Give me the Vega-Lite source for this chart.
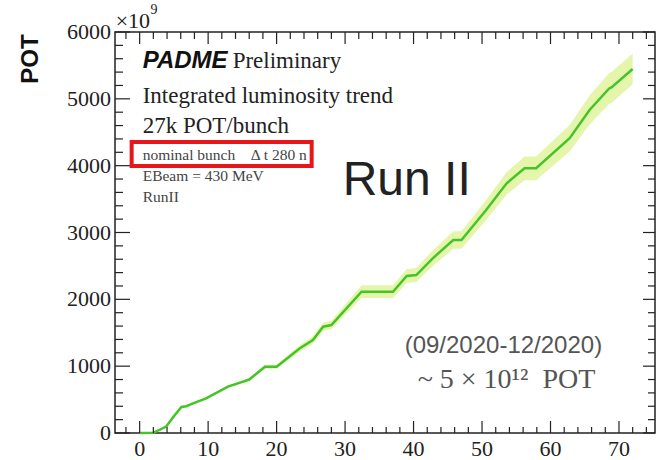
{
  "$schema": "https://vega.github.io/schema/vega-lite/v6.json",
  "width": 540,
  "height": 401,
  "autosize": {"type": "none"},
  "padding": {"left": 115, "top": 32, "right": 1, "bottom": 27},
  "background": "white",
  "config": {"view": {"stroke": "#222", "strokeWidth": 1.5}, "font": "Liberation Serif"},
  "datasets": {
    "pot": [
      {"day": 0, "pot": 0, "lo": 0, "hi": 0},
      {"day": 2.0, "pot": 5, "lo": 5, "hi": 5},
      {"day": 2.9, "pot": 45, "lo": 44, "hi": 46},
      {"day": 3.9, "pot": 100, "lo": 97, "hi": 103},
      {"day": 5.0, "pot": 250, "lo": 242, "hi": 258},
      {"day": 6.1, "pot": 390, "lo": 378, "hi": 402},
      {"day": 6.8, "pot": 400, "lo": 388, "hi": 412},
      {"day": 7.8, "pot": 444, "lo": 431, "hi": 457},
      {"day": 9.7, "pot": 519, "lo": 503, "hi": 535},
      {"day": 12.9, "pot": 693, "lo": 672, "hi": 714},
      {"day": 15.1, "pot": 768, "lo": 745, "hi": 791},
      {"day": 16.0, "pot": 800, "lo": 776, "hi": 824},
      {"day": 18.3, "pot": 992, "lo": 962, "hi": 1022},
      {"day": 20.0, "pot": 992, "lo": 962, "hi": 1022},
      {"day": 23.4, "pot": 1267, "lo": 1216, "hi": 1318},
      {"day": 25.3, "pot": 1392, "lo": 1336, "hi": 1448},
      {"day": 26.8, "pot": 1591, "lo": 1527, "hi": 1655},
      {"day": 28.0, "pot": 1616, "lo": 1551, "hi": 1681},
      {"day": 32.4, "pot": 2114, "lo": 2019, "hi": 2209},
      {"day": 37.0, "pot": 2114, "lo": 2019, "hi": 2209},
      {"day": 39.0, "pot": 2349, "lo": 2243, "hi": 2455},
      {"day": 40.4, "pot": 2364, "lo": 2258, "hi": 2470},
      {"day": 42.8, "pot": 2614, "lo": 2496, "hi": 2732},
      {"day": 45.8, "pot": 2888, "lo": 2758, "hi": 3018},
      {"day": 47.0, "pot": 2888, "lo": 2758, "hi": 3018},
      {"day": 50.6, "pot": 3337, "lo": 3187, "hi": 3487},
      {"day": 53.6, "pot": 3736, "lo": 3568, "hi": 3904},
      {"day": 56.2, "pot": 3961, "lo": 3783, "hi": 4139},
      {"day": 57.9, "pot": 3961, "lo": 3783, "hi": 4139},
      {"day": 62.8, "pot": 4410, "lo": 4212, "hi": 4608},
      {"day": 65.7, "pot": 4833, "lo": 4616, "hi": 5050},
      {"day": 68.6, "pot": 5158, "lo": 4926, "hi": 5390},
      {"day": 68.9, "pot": 5170, "lo": 4937, "hi": 5403},
      {"day": 72.0, "pot": 5447, "lo": 5217, "hi": 5677}
    ],
    "xmaj": [{"v": 0}, {"v": 10}, {"v": 20}, {"v": 30}, {"v": 40}, {"v": 50}, {"v": 60}, {"v": 70}],
    "xmin": [{"v": -2}, {"v": 2}, {"v": 4}, {"v": 6}, {"v": 8}, {"v": 12}, {"v": 14}, {"v": 16}, {"v": 18}, {"v": 22}, {"v": 24}, {"v": 26}, {"v": 28}, {"v": 32}, {"v": 34}, {"v": 36}, {"v": 38}, {"v": 42}, {"v": 44}, {"v": 46}, {"v": 48}, {"v": 52}, {"v": 54}, {"v": 56}, {"v": 58}, {"v": 62}, {"v": 64}, {"v": 66}, {"v": 68}, {"v": 72}, {"v": 74}],
    "ymaj": [{"v": 0}, {"v": 1000}, {"v": 2000}, {"v": 3000}, {"v": 4000}, {"v": 5000}, {"v": 6000}],
    "ymin": [{"v": 200}, {"v": 400}, {"v": 600}, {"v": 800}, {"v": 1200}, {"v": 1400}, {"v": 1600}, {"v": 1800}, {"v": 2200}, {"v": 2400}, {"v": 2600}, {"v": 2800}, {"v": 3200}, {"v": 3400}, {"v": 3600}, {"v": 3800}, {"v": 4200}, {"v": 4400}, {"v": 4600}, {"v": 4800}, {"v": 5200}, {"v": 5400}, {"v": 5600}, {"v": 5800}]
  },
  "layer": [
    {
      "data": {"name": "pot"},
      "mark": {"type": "area", "color": "#e4f5a8", "opacity": 0.95},
      "encoding": {
        "x": {"field": "day", "type": "quantitative", "scale": {"domain": [-3.6, 75.26], "nice": false, "zero": false}, "axis": null},
        "y": {"field": "lo", "type": "quantitative", "scale": {"domain": [0, 6000], "nice": false, "zero": false}, "axis": null},
        "y2": {"field": "hi"}
      }
    },
    {
      "data": {"name": "pot"},
      "mark": {"type": "line", "color": "#45c42a", "strokeWidth": 2.5},
      "encoding": {
        "x": {"field": "day", "type": "quantitative", "axis": null},
        "y": {"field": "pot", "type": "quantitative", "axis": null}
      }
    },
    {
      "data": {"name": "xmaj"},
      "mark": {"type": "tick", "orient": "vertical", "size": 12, "thickness": 1.2, "color": "#222", "opacity": 1, "yOffset": -6},
      "encoding": {"x": {"field": "v", "type": "quantitative", "axis": null}, "y": {"datum": 0, "type": "quantitative", "axis": null}}
    },
    {
      "data": {"name": "xmin"},
      "mark": {"type": "tick", "orient": "vertical", "size": 6, "thickness": 1.2, "color": "#222", "opacity": 1, "yOffset": -3},
      "encoding": {"x": {"field": "v", "type": "quantitative", "axis": null}, "y": {"datum": 0, "type": "quantitative", "axis": null}}
    },
    {
      "data": {"name": "xmaj"},
      "mark": {"type": "tick", "orient": "vertical", "size": 12, "thickness": 1.2, "color": "#222", "opacity": 1, "yOffset": 6},
      "encoding": {"x": {"field": "v", "type": "quantitative", "axis": null}, "y": {"datum": 6000, "type": "quantitative", "axis": null}}
    },
    {
      "data": {"name": "xmin"},
      "mark": {"type": "tick", "orient": "vertical", "size": 7, "thickness": 1.2, "color": "#222", "opacity": 1, "yOffset": 3.5},
      "encoding": {"x": {"field": "v", "type": "quantitative", "axis": null}, "y": {"datum": 6000, "type": "quantitative", "axis": null}}
    },
    {
      "data": {"name": "ymaj"},
      "mark": {"type": "tick", "orient": "horizontal", "size": 15, "thickness": 1.2, "color": "#222", "opacity": 1, "xOffset": 7.5},
      "encoding": {"y": {"field": "v", "type": "quantitative", "axis": null}, "x": {"datum": -3.6, "type": "quantitative", "axis": null}}
    },
    {
      "data": {"name": "ymin"},
      "mark": {"type": "tick", "orient": "horizontal", "size": 8, "thickness": 1.2, "color": "#222", "opacity": 1, "xOffset": 4},
      "encoding": {"y": {"field": "v", "type": "quantitative", "axis": null}, "x": {"datum": -3.6, "type": "quantitative", "axis": null}}
    },
    {
      "data": {"name": "ymaj"},
      "mark": {"type": "tick", "orient": "horizontal", "size": 12, "thickness": 1.2, "color": "#222", "opacity": 1, "xOffset": -6},
      "encoding": {"y": {"field": "v", "type": "quantitative", "axis": null}, "x": {"datum": 75.26, "type": "quantitative", "axis": null}}
    },
    {
      "data": {"name": "ymin"},
      "mark": {"type": "tick", "orient": "horizontal", "size": 7, "thickness": 1.2, "color": "#222", "opacity": 1, "xOffset": -3.5},
      "encoding": {"y": {"field": "v", "type": "quantitative", "axis": null}, "x": {"datum": 75.26, "type": "quantitative", "axis": null}}
    },
    {
      "data": {"name": "xmaj"},
      "mark": {"type": "text", "align": "center", "baseline": "top", "dy": 6, "font": "Liberation Serif", "fontSize": 22, "color": "#222"},
      "encoding": {
        "x": {"field": "v", "type": "quantitative", "axis": null},
        "y": {"datum": 0, "type": "quantitative", "axis": null},
        "text": {"field": "v", "type": "quantitative", "format": "d"}
      }
    },
    {
      "data": {"name": "ymaj"},
      "mark": {"type": "text", "align": "right", "baseline": "middle", "dx": -4, "font": "Liberation Serif", "fontSize": 22, "color": "#222"},
      "encoding": {
        "y": {"field": "v", "type": "quantitative", "axis": null},
        "x": {"datum": -3.6, "type": "quantitative", "axis": null},
        "text": {"field": "v", "type": "quantitative", "format": "d"}
      }
    },
    {
      "data": {"values": [{"x": -15.92, "y": 5596, "t": "POT"}]},
      "mark": {"type": "text", "align": "center", "baseline": "middle", "angle": 270, "font": "Liberation Sans", "fontWeight": "bold", "fontSize": 24, "color": "#111"},
      "encoding": {
        "x": {"field": "x", "type": "quantitative", "axis": null},
        "y": {"field": "y", "type": "quantitative", "axis": null},
        "text": {"field": "t"}
      }
    },
    {
      "data": {"values": [{"x1": -1.17, "x2": 25.12, "y1": 4354, "y2": 3995}]},
      "mark": {"type": "rect", "fillOpacity": 0, "stroke": "#e8151b", "strokeWidth": 4},
      "encoding": {
        "x": {"field": "x1", "type": "quantitative", "axis": null},
        "x2": {"field": "x2"},
        "y": {"field": "y1", "type": "quantitative", "axis": null},
        "y2": {"field": "y2"}
      }
    },
    {
      "data": {"values": [{"x": 0.44, "y": 5462, "t": "PADME"}]},
      "mark": {"type": "text", "align": "left", "baseline": "alphabetic", "font": "Liberation Sans", "fontWeight": "bold", "fontStyle": "italic", "fontSize": 24, "color": "#111"},
      "encoding": {
        "x": {"field": "x", "type": "quantitative", "axis": null},
        "y": {"field": "y", "type": "quantitative", "axis": null},
        "text": {"field": "t"}
      }
    },
    {
      "data": {"values": [
        {"x": 13.58, "y": 5462, "t": "Preliminary"},
        {"x": 0.44, "y": 4938, "t": "Integrated luminosity trend"},
        {"x": 0.44, "y": 4489, "t": "27k POT/bunch"}
      ]},
      "mark": {"type": "text", "align": "left", "baseline": "alphabetic", "font": "Liberation Serif", "fontSize": 23, "color": "#222"},
      "encoding": {
        "x": {"field": "x", "type": "quantitative", "axis": null},
        "y": {"field": "y", "type": "quantitative", "axis": null},
        "text": {"field": "t"}
      }
    },
    {
      "data": {"values": [
        {"x": 0.44, "y": 4085, "t": "nominal bunch \u00a0\u00a0\u00a0Δ t 280 n"},
        {"x": 0.44, "y": 3771, "t": "EBeam = 430 MeV"},
        {"x": 0.44, "y": 3457, "t": "RunII"}
      ]},
      "mark": {"type": "text", "align": "left", "baseline": "alphabetic", "font": "Liberation Serif", "fontSize": 15.5, "color": "#444"},
      "encoding": {
        "x": {"field": "x", "type": "quantitative", "axis": null},
        "y": {"field": "y", "type": "quantitative", "axis": null},
        "text": {"field": "t"}
      }
    },
    {
      "data": {"values": [{"x": 29.65, "y": 3561, "t": "Run II"}]},
      "mark": {"type": "text", "align": "left", "baseline": "alphabetic", "font": "Liberation Sans", "fontSize": 48, "color": "#222"},
      "encoding": {
        "x": {"field": "x", "type": "quantitative", "axis": null},
        "y": {"field": "y", "type": "quantitative", "axis": null},
        "text": {"field": "t"}
      }
    },
    {
      "data": {"values": [{"x": 38.7, "y": 1197, "t": "(09/2020-12/2020)"}]},
      "mark": {"type": "text", "align": "left", "baseline": "alphabetic", "font": "Liberation Sans", "fontSize": 24, "color": "#555"},
      "encoding": {
        "x": {"field": "x", "type": "quantitative", "axis": null},
        "y": {"field": "y", "type": "quantitative", "axis": null},
        "text": {"field": "t"}
      }
    },
    {
      "data": {"values": [{"x": 40.6, "y": 673, "t": "~ 5 × 10¹² \u00a0POT"}]},
      "mark": {"type": "text", "align": "left", "baseline": "alphabetic", "font": "Liberation Serif", "fontSize": 28, "color": "#555"},
      "encoding": {
        "x": {"field": "x", "type": "quantitative", "axis": null},
        "y": {"field": "y", "type": "quantitative", "axis": null},
        "text": {"field": "t"}
      }
    },
    {
      "data": {"values": [{"x": -3.5, "y": 6060, "t": "×10"}]},
      "mark": {"type": "text", "align": "left", "baseline": "alphabetic", "font": "Liberation Serif", "fontSize": 22, "color": "#222"},
      "encoding": {
        "x": {"field": "x", "type": "quantitative", "axis": null},
        "y": {"field": "y", "type": "quantitative", "axis": null},
        "text": {"field": "t"}
      }
    },
    {
      "data": {"values": [{"x": 1.6, "y": 6270, "t": "9"}]},
      "mark": {"type": "text", "align": "left", "baseline": "alphabetic", "font": "Liberation Serif", "fontSize": 14, "color": "#222"},
      "encoding": {
        "x": {"field": "x", "type": "quantitative", "axis": null},
        "y": {"field": "y", "type": "quantitative", "axis": null},
        "text": {"field": "t"}
      }
    }
  ]
}
